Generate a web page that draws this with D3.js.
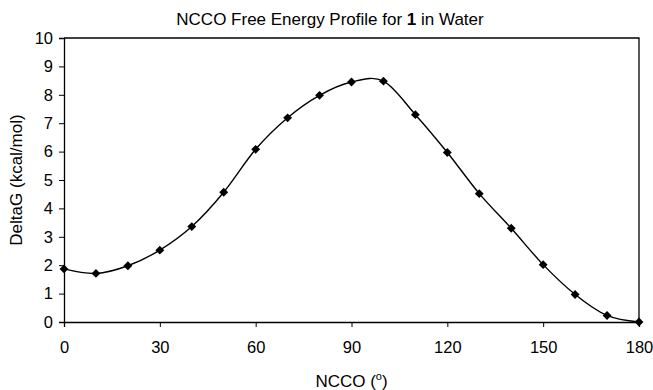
<!DOCTYPE html>
<html>
<head>
<meta charset="utf-8">
<script src="https://cdn.jsdelivr.net/npm/d3@7"></script>
<style>
  body { margin: 0; background: #fff; }
  svg { font-family: Arial, "Liberation Sans", sans-serif; }
</style>
</head>
<body>
<svg width="653" height="390"></svg>
<script>
// NCCO dihedral (degrees) and free energy (kcal/mol)
const angles = [0, 10, 20, 30, 40, 50, 60, 70, 80, 90, 100, 110, 120, 130, 140, 150, 160, 170, 180];
const deltaG = [1.87, 1.71, 1.98, 2.53, 3.36, 4.57, 6.08, 7.19, 7.98, 8.45, 8.48, 7.30, 5.97, 4.52, 3.30, 2.02, 0.97, 0.23, 0.0];
const xTicks = [0, 30, 60, 90, 120, 150, 180];
const yTicks = [0, 1, 2, 3, 4, 5, 6, 7, 8, 9, 10];

const svg = d3.select('svg');
const margin = {left: 64, right: 14, top: 38, bottom: 68};
const width = +svg.attr('width');
const height = +svg.attr('height');
const fs = '16.5px';

const x = d3.scaleLinear().domain([0, 180]).range([margin.left, width - margin.right]);
const y = d3.scaleLinear().domain([0, 10]).range([height - margin.bottom, margin.top]);

const points = angles.map((a, i) => ({a: a, g: deltaG[i]}));

// plot frame (top and right edges)
svg.append('path')
  .attr('d', `M${x(0)},${y(10)}H${x(180)}V${y(0)}`)
  .attr('fill', 'none')
  .attr('stroke', '#000')
  .attr('stroke-width', 1.3);

const xAxis = svg.append('g')
  .attr('transform', `translate(0,${y(0)})`)
  .call(d3.axisBottom(x).tickValues(xTicks).tickSize(5).tickPadding(14));

const yAxis = svg.append('g')
  .attr('transform', `translate(${x(0)},0)`)
  .call(d3.axisLeft(y).tickValues(yTicks).tickSize(5).tickPadding(6));

[xAxis, yAxis].forEach(g => {
  g.select('.domain').attr('stroke', '#000').attr('stroke-width', 1.3);
  g.selectAll('.tick line').attr('stroke', '#000');
  g.selectAll('.tick text')
    .attr('fill', '#000')
    .style('font-size', fs)
    .style('font-family', 'Arial, "Liberation Sans", sans-serif');
});

const line = d3.line()
  .x(d => x(d.a))
  .y(d => y(d.g))
  .curve(d3.curveCardinal.tension(0));

svg.append('path')
  .datum(points)
  .attr('d', line)
  .attr('fill', 'none')
  .attr('stroke', '#000')
  .attr('stroke-width', 1.4);

svg.append('g')
  .selectAll('path')
  .data(points)
  .enter()
  .append('path')
  .attr('d', d3.symbol().type(d3.symbolDiamond2).size(50))
  .attr('transform', d => `translate(${x(d.a)},${y(d.g)})`)
  .attr('fill', '#000');

// title
const title = svg.append('text')
  .attr('x', 330)
  .attr('y', 25)
  .attr('text-anchor', 'middle')
  .style('font-size', '17px')
  .attr('fill', '#000');
title.append('tspan').text('NCCO Free Energy Profile for ');
title.append('tspan').attr('font-weight', 'bold').text('1');
title.append('tspan').text(' in Water');

// x axis title
const xt = svg.append('text')
  .attr('x', x(90))
  .attr('y', 387)
  .attr('text-anchor', 'middle')
  .style('font-size', '17px')
  .attr('fill', '#000');
xt.append('tspan').text('NCCO (');
xt.append('tspan').attr('dy', -7).style('font-size', '11px').text('o');
xt.append('tspan').attr('dy', 7).text(')');

// y axis title
svg.append('text')
  .attr('transform', `translate(22,${y(5)}) rotate(-90)`)
  .attr('text-anchor', 'middle')
  .style('font-size', '17px')
  .attr('fill', '#000')
  .text('DeltaG (kcal/mol)');
</script>
</body>
</html>
